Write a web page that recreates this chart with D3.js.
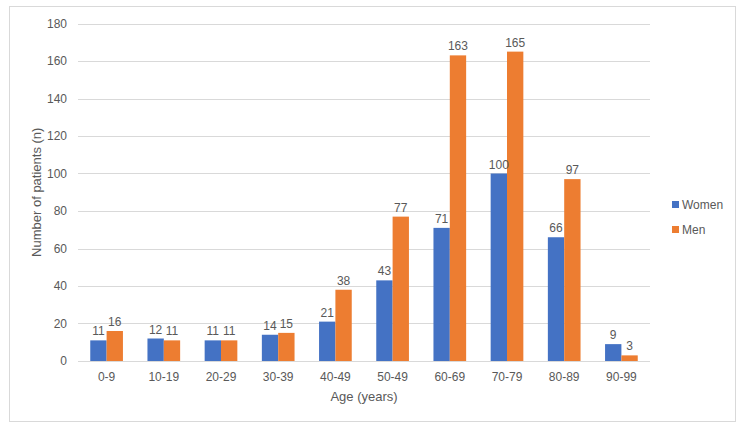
<!DOCTYPE html>
<html lang="en">
<head>
<meta charset="UTF-8">
<title>Patients by age</title>
<style>
	body { margin: 0; background: #fff; }
	.chart-text { font-family: "Liberation Sans", "DejaVu Sans", sans-serif; fill: #595959; }
	.grid line { stroke: #d9d9d9; shape-rendering: crispEdges; }
</style>
<script src="https://cdn.jsdelivr.net/npm/d3@7"></script>
</head>
<body>
<script>
	// data
	const ageGroups = ["0-9", "10-19", "20-29", "30-39", "40-49", "50-49", "60-69", "70-79", "80-89", "90-99"];
	const women = [11, 12, 11, 14, 21, 43, 71, 100, 66, 9];
	const men = [16, 11, 11, 15, 38, 77, 163, 165, 97, 3];
	const seriesNames = ["Women", "Men"];
	const seriesColors = ["#4472C4", "#ED7D31"];
	const yTicks = [0, 20, 40, 60, 80, 100, 120, 140, 160, 180];

	const w = 744, h = 430;
	const svg = d3.select("body").append("svg")
		.attr("width", w).attr("height", h);

	// outer frame
	svg.append("rect")
		.attr("x", 9.5).attr("y", 6.5)
		.attr("width", 726).attr("height", 415)
		.attr("fill", "#fff").attr("stroke", "#d9d9d9");

	const plotL = 78, plotR = 650, plotT = 23.5, plotB = 361;

	const x0 = d3.scaleBand().domain(ageGroups).range([plotL, plotR]).paddingInner(0).paddingOuter(0);
	const y = d3.scaleLinear().domain([0, 180]).range([plotB, plotT]);
	// gap width 150% -> each bar = band / 3.5
	const barW = x0.bandwidth() / 3.5;

	// gridlines
	svg.append("g").attr("class", "grid")
		.selectAll("line").data(yTicks).enter().append("line")
		.attr("x1", plotL).attr("x2", plotR)
		.attr("y1", d => Math.round(y(d)) + 0.5)
		.attr("y2", d => Math.round(y(d)) + 0.5);

	// y tick labels
	svg.append("g").selectAll("text").data(yTicks).enter().append("text")
		.attr("class", "chart-text")
		.attr("x", 67).attr("y", d => y(d))
		.attr("dy", "0.35em")
		.attr("text-anchor", "end")
		.style("font-size", "12px")
		.text(d => d);

	const rows = ageGroups.map((g, i) => ({ g: g, vals: [women[i], men[i]] }));

	const groups = svg.append("g").selectAll("g").data(rows).enter().append("g")
		.attr("transform", d => "translate(" + (x0(d.g) + x0.bandwidth() / 2 - barW) + ",0)");

	groups.selectAll("rect").data(d => d.vals).enter().append("rect")
		.attr("x", (d, j) => j * barW)
		.attr("y", d => y(d))
		.attr("width", barW)
		.attr("height", d => y(0) - y(d))
		.attr("fill", (d, j) => seriesColors[j]);

	groups.selectAll("text").data(d => d.vals).enter().append("text")
		.attr("class", "chart-text")
		.attr("x", (d, j) => j * barW + barW / 2)
		.attr("y", d => y(d) - 5)
		.attr("text-anchor", "middle")
		.style("font-size", "12px")
		.text(d => d);

	// x category labels
	svg.append("g").selectAll("text").data(ageGroups).enter().append("text")
		.attr("class", "chart-text")
		.attr("x", d => x0(d) + x0.bandwidth() / 2)
		.attr("y", 381)
		.attr("text-anchor", "middle")
		.style("font-size", "12px")
		.text(d => d);

	// axis titles
	svg.append("text").attr("class", "chart-text")
		.attr("x", (plotL + plotR) / 2).attr("y", 401)
		.attr("text-anchor", "middle")
		.style("font-size", "13px")
		.text("Age (years)");

	svg.append("text").attr("class", "chart-text")
		.attr("transform", "translate(41," + ((plotT + plotB) / 2) + ") rotate(-90)")
		.attr("text-anchor", "middle")
		.style("font-size", "13px")
		.text("Number of patients (n)");

	// legend
	const legend = svg.append("g").selectAll("g").data(seriesNames).enter().append("g")
		.attr("transform", (d, i) => "translate(672," + (201 + i * 25) + ")");
	legend.append("rect").attr("width", 7).attr("height", 7)
		.attr("fill", (d, i) => seriesColors[i]);
	legend.append("text").attr("class", "chart-text")
		.attr("x", 10).attr("y", 3.5).attr("dy", "0.35em")
		.style("font-size", "12px")
		.text(d => d);
</script>
</body>
</html>
